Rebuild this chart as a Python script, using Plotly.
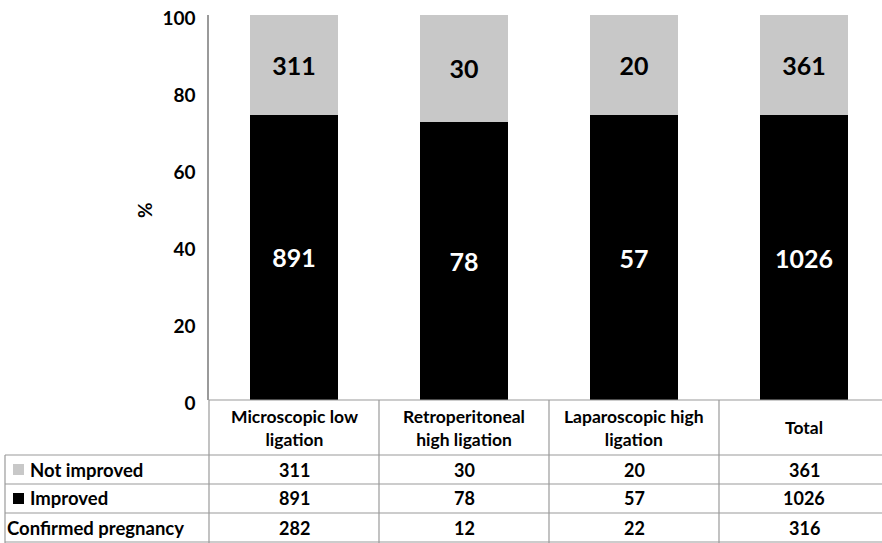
import plotly.graph_objects as go

categories = ["Microscopic low ligation", "Retroperitoneal high ligation",
              "Laparoscopic high ligation", "Total"]
header_labels = ["Microscopic low<br>ligation", "Retroperitoneal<br>high ligation",
                 "Laparoscopic high<br>ligation", "Total"]
not_improved = [311, 30, 20, 361]
improved = [891, 78, 57, 1026]
confirmed_pregnancy = [282, 12, 22, 316]
row_labels = ["Not improved", "Improved", "Confirmed pregnancy"]
y_ticks = [0, 20, 40, 60, 80, 100]

GRAY = "#c8c8c8"
BLACK = "#000000"
LINE = "#9a9a9a"
FONT = "Lato"

W, H = 882, 543
L, R, T = 209, 0, 15
B = H - 400
PW, PH = W - L - R, H - T - B

def px_x(x):
    return (x - L) / PW

def px_y(y):
    return (H - B - y) / PH

x_idx = list(range(len(categories)))

fig = go.Figure()
fig.add_trace(go.Bar(x=x_idx, y=improved, name="Improved", marker_color=BLACK,
                     marker_line_width=0, text=improved, textposition="inside",
                     insidetextanchor="middle", textangle=0,
                     textfont=dict(family=FONT, size=25, color="white", weight="bold"),
                     width=0.52))
fig.add_trace(go.Bar(x=x_idx, y=not_improved, name="Not improved", marker_color=GRAY,
                     marker_line_width=0, text=not_improved, textposition="inside",
                     insidetextanchor="middle", textangle=0,
                     textfont=dict(family=FONT, size=25, color="black", weight="bold"),
                     width=0.52))

fig.update_layout(
    barmode="stack", barnorm="percent",
    width=W, height=H, margin=dict(l=L, r=R, t=T, b=B, autoexpand=False),
    paper_bgcolor="white", plot_bgcolor="white", showlegend=False,
    font=dict(family=FONT, color="black"),
    uniformtext=dict(minsize=8, mode="show"),
)
fig.update_xaxes(range=[-0.5, -0.5 + PW / 170.0], showticklabels=False, showgrid=False,
                 zeroline=False, showline=False, ticks="", automargin=False)
fig.update_yaxes(range=[0, 100], tickvals=y_ticks, showgrid=False, zeroline=False,
                 showline=True, linecolor=LINE, linewidth=1.5, ticks="",
                 ticklabelstandoff=8, ticklabeloverflow="allow", automargin=False,
                 ticklabelshift=3,
                 tickfont=dict(family=FONT, size=19, color="black", weight="bold"))

shapes = []
for ypx, x0 in [(400, px_x(209)), (455, px_x(5)), (484, px_x(5)), (513, px_x(5)), (542, px_x(5))]:
    shapes.append(dict(type="line", xref="paper", yref="paper", x0=x0, x1=1.0,
                       y0=px_y(ypx), y1=px_y(ypx), line=dict(color=LINE, width=1.2)))
shapes.append(dict(type="line", xref="paper", yref="paper", x0=px_x(5), x1=px_x(5),
                   y0=px_y(455), y1=px_y(543), line=dict(color=LINE, width=1.2)))
shapes.append(dict(type="line", xref="paper", yref="paper", x0=0, x1=0,
                   y0=px_y(400), y1=px_y(543), line=dict(color=LINE, width=1.2)))
for b in [0.5, 1.5, 2.5]:
    shapes.append(dict(type="line", xref="x", yref="paper", x0=b, x1=b,
                       y0=px_y(400), y1=px_y(543), line=dict(color=LINE, width=1.2)))
shapes.append(dict(type="rect", xref="paper", yref="paper", x0=px_x(13), x1=px_x(24),
                   y0=px_y(475), y1=px_y(464), fillcolor=GRAY, line=dict(width=0)))
shapes.append(dict(type="rect", xref="paper", yref="paper", x0=px_x(13), x1=px_x(24),
                   y0=px_y(504), y1=px_y(493), fillcolor=BLACK, line=dict(width=0)))

ann = []
cell_font = dict(family=FONT, size=18, color="black", weight="bold")
row_centers = [469.5, 498.5, 528]
rows = [not_improved, improved, confirmed_pregnancy]
for i in x_idx:
    ann.append(dict(x=i, y=px_y(427.5), xref="x", yref="paper", text=header_labels[i],
                    showarrow=False, font=dict(family=FONT, size=17.5, color="black", weight="bold"),
                    xanchor="center", yanchor="middle"))
    for r, vals in enumerate(rows):
        ann.append(dict(x=i, y=px_y(row_centers[r]), xref="x", yref="paper", text=str(vals[i]),
                        showarrow=False, font=cell_font, xanchor="center", yanchor="middle"))
label_x = [28, 28, 5]
for r, lab in enumerate(row_labels):
    ann.append(dict(x=px_x(label_x[r]), y=px_y(row_centers[r]), xref="paper", yref="paper",
                    text=lab, showarrow=False, xanchor="left", yanchor="middle",
                    font=dict(family=FONT, size=18.5, color="black", weight="bold")))
ann.append(dict(x=px_x(144), y=px_y(210), xref="paper", yref="paper", text="%",
                showarrow=False, textangle=-90, xanchor="center", yanchor="middle",
                font=dict(family=FONT, size=19, color="black", weight="bold")))

fig.update_layout(shapes=shapes, annotations=ann)
fig.write_html("out.html", config={"displayModeBar": False},
               post_script="document.body.style.margin='0';")
